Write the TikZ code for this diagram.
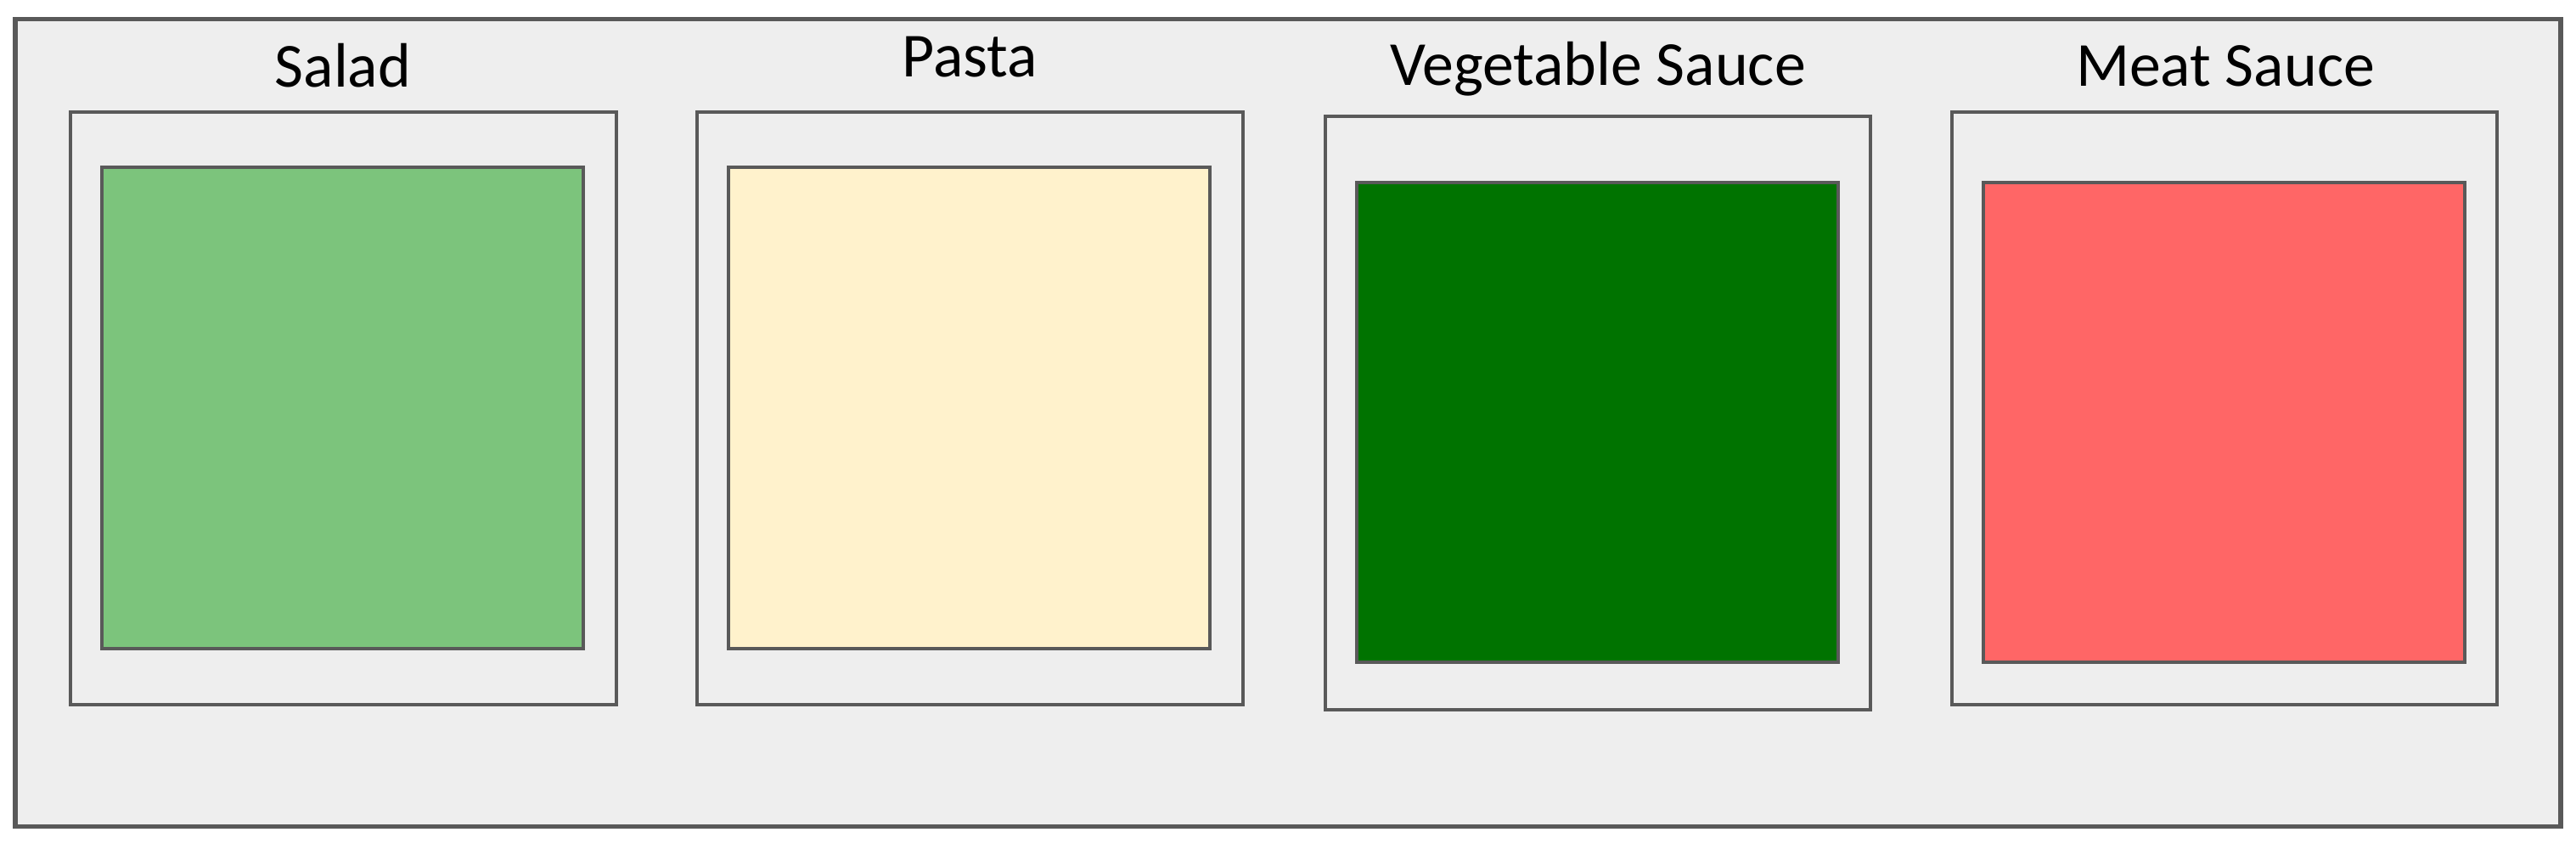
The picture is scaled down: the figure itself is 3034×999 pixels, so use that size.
\documentclass[tikz,border=0pt]{standalone}
\usepackage{fontspec}
\setmainfont{Carlito}
\usepackage{tikz}

\definecolor{bgray}{HTML}{EEEEEE}
\definecolor{lgray}{HTML}{595959}
\definecolor{salad}{HTML}{7CC47C}
\definecolor{pasta}{HTML}{FFF2CC}
\definecolor{vsauce}{HTML}{007300}
\definecolor{msauce}{HTML}{FF6666}

\begin{document}
\begin{tikzpicture}[x=0.01cm, y=-0.01cm,
  frame/.style = {draw=lgray, line width=1.5pt, fill=bgray, inner sep=0pt},
  holder/.style = {draw=lgray, line width=1.1pt, fill=bgray, inner sep=0pt, minimum width=6.42cm, minimum height=6.98cm},
  food/.style = {draw=lgray, line width=1.1pt, inner sep=0pt, minimum width=5.67cm, minimum height=5.67cm},
  title/.style = {anchor=base, font=\fontsize{21}{25}\selectfont}]
\useasboundingbox (0,0) rectangle (3034,999);
\node[frame, minimum width=29.96cm, minimum height=9.5cm] (bg) at (1517,498) {};
% dishes
\node[holder] (h1) at (404.5,481) {};
\node[holder] (h2) at (1142.5,481) {};
\node[holder] (h3) at (1882,486.5) {};
\node[holder] (h4) at (2620,481) {};
\node[food, fill=salad] (f1) at (403.5,480.5) {};
\node[food, fill=pasta] (f2) at (1141.5,480.5) {};
\node[food, fill=vsauce, minimum height=5.65cm] (f3) at (1881.5,497.5) {};
\node[food, fill=msauce, minimum height=5.65cm] (f4) at (2619.5,497.5) {};
% titles
\node[title] (t1) at (404,102) {Salad};
\node[title] (t2) at (1142,90) {Pasta};
\node[title] (t3) at (1882,100) {Vegetable Sauce};
\node[title] (t4) at (2621,101) {Meat Sauce};
\end{tikzpicture}
\end{document}
